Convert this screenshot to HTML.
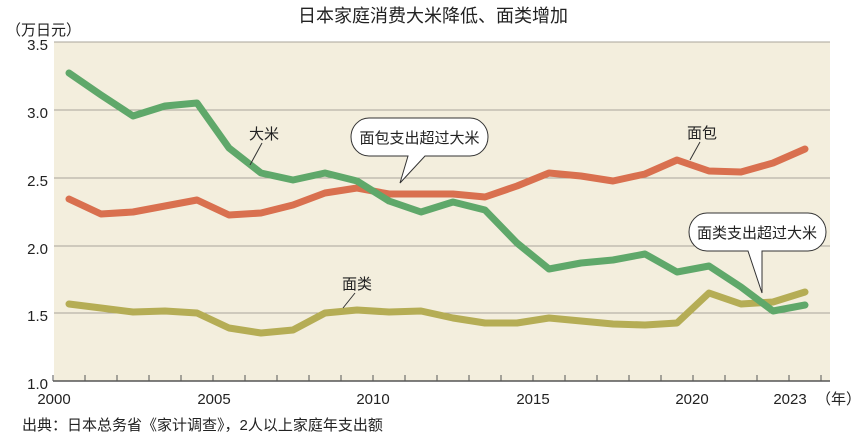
<!DOCTYPE html>
<html><head><meta charset="utf-8"><style>
body{margin:0;background:#fff;}
svg{display:block;font-family:"Liberation Sans","Noto Sans CJK SC",sans-serif;}
</style></head><body>
<svg width="867" height="447" viewBox="0 0 867 447">
<rect x="54" y="42" width="776" height="339" fill="#f3eedd"/>
<g stroke="#aaa49a" stroke-width="1">
<line x1="54" y1="42" x2="830" y2="42"/>
<line x1="54" y1="110" x2="830" y2="110"/>
<line x1="54" y1="178" x2="830" y2="178"/>
<line x1="54" y1="246" x2="830" y2="246"/>
<line x1="54" y1="313" x2="830" y2="313"/>
</g>
<line x1="53" y1="381" x2="830" y2="381" stroke="#555" stroke-width="1.5"/>
<g stroke="#555" stroke-width="1">
<path d="M53 375V381M85 375V381M117 375V381M149 375V381M181 375V381M213 375V381M245 375V381M277 375V381M309 375V381M341 375V381M373 375V381M405 375V381M437 375V381M469 375V381M501 375V381M533 375V381M565 375V381M597 375V381M629 375V381M661 375V381M693 375V381M725 375V381M757 375V381M789 375V381M821 375V381"/>
</g>
<g font-size="15" fill="#222" text-anchor="end">
<text x="48" y="50">3.5</text><text x="48" y="118">3.0</text><text x="48" y="186">2.5</text>
<text x="48" y="254">2.0</text><text x="48" y="321">1.5</text><text x="48" y="389">1.0</text>
</g>
<g font-size="15" fill="#222" text-anchor="middle">
<text x="54" y="404">2000</text><text x="214" y="404">2005</text><text x="373" y="404">2010</text>
<text x="533" y="404">2015</text><text x="692" y="404">2020</text><text x="790" y="404">2023</text>
</g>
<text x="816" y="404" font-size="15" fill="#222">（年）</text>
<text x="6" y="35" font-size="15" fill="#222">（万日元）</text>
<text x="433" y="22" font-size="18" fill="#222" text-anchor="middle">日本家庭消费大米降低、面类增加</text>
<text x="22" y="430" font-size="15" fill="#222">出典：日本总务省《家计调查》，2人以上家庭年支出额</text>
<g fill="none" stroke-width="7" stroke-linejoin="round" stroke-linecap="round">
<polyline stroke="#d9704f" points="69,199 101,214 133,212 165,206 197,200 229,215 261,213 293,205 325,193 357,188 389,194 421,194 453,194 485,197 517,186 549,173 581,176 613,181 645,174 677,160 709,171 741,172 773,163 805,149"/>
<polyline stroke="#b5ad55" points="69,304 101,308 133,312 165,311 197,313 229,328 261,333 293,330 325,313 357,310 389,312 421,311 453,318 485,323 517,323 549,318 581,321 613,324 645,325 677,323 709,293 741,304 773,302 805,292"/>
<polyline stroke="#5fa86a" points="69,73 101,95 133,116 165,106 197,103 229,148 261,173 293,180 325,173 357,181 389,201 421,212 453,202 485,210 517,243 549,269 581,263 613,260 645,254 677,272 709,266 741,287 773,311 805,305"/>
</g>
<g stroke="#333" stroke-width="1" fill="none">
<line x1="262" y1="143" x2="250" y2="165"/>
<line x1="700" y1="142" x2="690" y2="160"/>
<line x1="355" y1="293" x2="343" y2="308"/>
</g>
<g font-size="15" fill="#222">
<text x="249" y="139">大米</text>
<text x="687" y="138">面包</text>
<text x="342" y="289">面类</text>
</g>
<path d="M369 118H470A18 19 0 0 1 470 156H425L400 183L408 156H369A18 19 0 0 1 369 118Z" fill="#fff" stroke="#333" stroke-width="1"/>
<text x="419.5" y="143" font-size="15" fill="#222" text-anchor="middle">面包支出超过大米</text>
<path d="M707 213H808A18 19 0 0 1 808 251H762L762 293L748 251H707A18 19 0 0 1 707 213Z" fill="#fff" stroke="#333" stroke-width="1"/>
<text x="757" y="238" font-size="15" fill="#222" text-anchor="middle">面类支出超过大米</text>
</svg>
</body></html>
